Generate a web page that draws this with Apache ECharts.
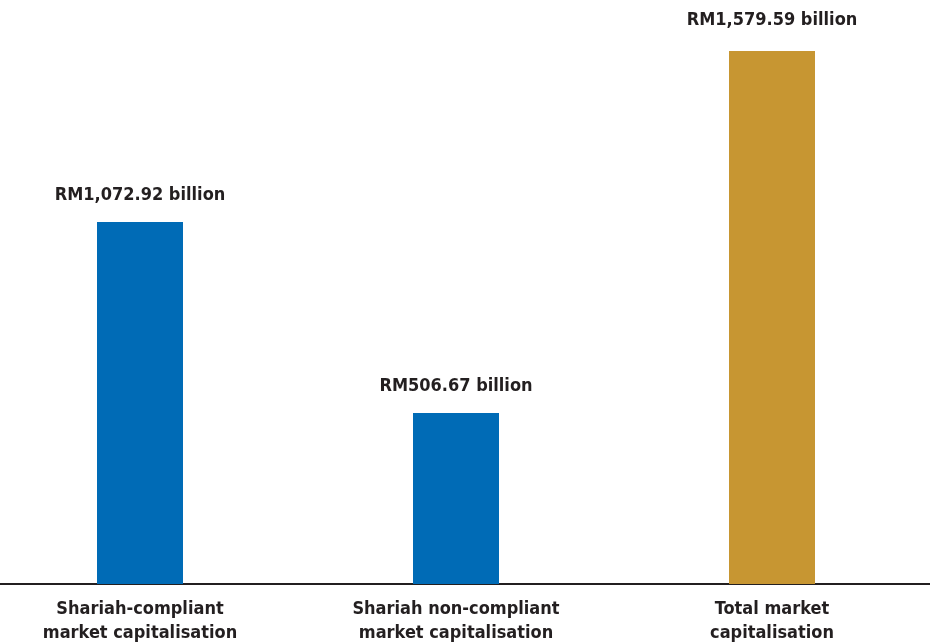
<!DOCTYPE html>
<html>
<head>
<meta charset="utf-8">
<script src="https://cdn.jsdelivr.net/npm/echarts@6/dist/echarts.min.js"></script>
<style>
html,body{margin:0;padding:0;background:#fff;}
#chart{width:930px;height:643px;}
</style>
</head>
<body>
<div id="chart"></div>
<script type="text/javascript">

var categories = ['Shariah-compliant\nmarket capitalisation', 'Shariah non-compliant\nmarket capitalisation', 'Total market\ncapitalisation'];
var values = [1072.92, 506.67, 1579.59];
var barColors = ['#006bb6', '#006bb6', '#c79632'];
var labelGaps = [18, 18, 22];

var font = '"Liberation Sans Narrow", "DejaVu Sans Condensed", sans-serif';

var option = {
    animation: false,
    grid: {
        left: -18,
        right: 0,
        top: 44,
        bottom: 59,
        outerBoundsMode: 'none'
    },
    xAxis: {
        type: 'category',
        data: categories,
        axisLine: {
            show: true,
            lineStyle: { color: '#231f20', width: 2 }
        },
        axisTick: { show: false },
        axisLabel: {
            color: '#231f20',
            fontFamily: font,
            fontWeight: 'bold',
            fontSize: 18,
            lineHeight: 24,
            margin: 13
        }
    },
    yAxis: {
        type: 'value',
        min: 0,
        max: 1600,
        show: false,
        splitLine: { show: false }
    },
    series: [
        {
            type: 'bar',
            barWidth: 86,
            data: values.map(function (v, i) {
                return { value: v, itemStyle: { color: barColors[i] }, label: { distance: labelGaps[i] } };
            }),
            label: {
                show: true,
                position: 'top',
                color: '#231f20',
                fontFamily: font,
                fontWeight: 'bold',
                fontSize: 18,
                formatter: function (p) {
                    return 'RM' + p.value.toLocaleString('en-US', { minimumFractionDigits: 2 }) + ' billion';
                }
            }
        }
    ]
};

var chart = echarts.init(document.getElementById('chart'));
chart.setOption(option);
</script>
</body>
</html>
